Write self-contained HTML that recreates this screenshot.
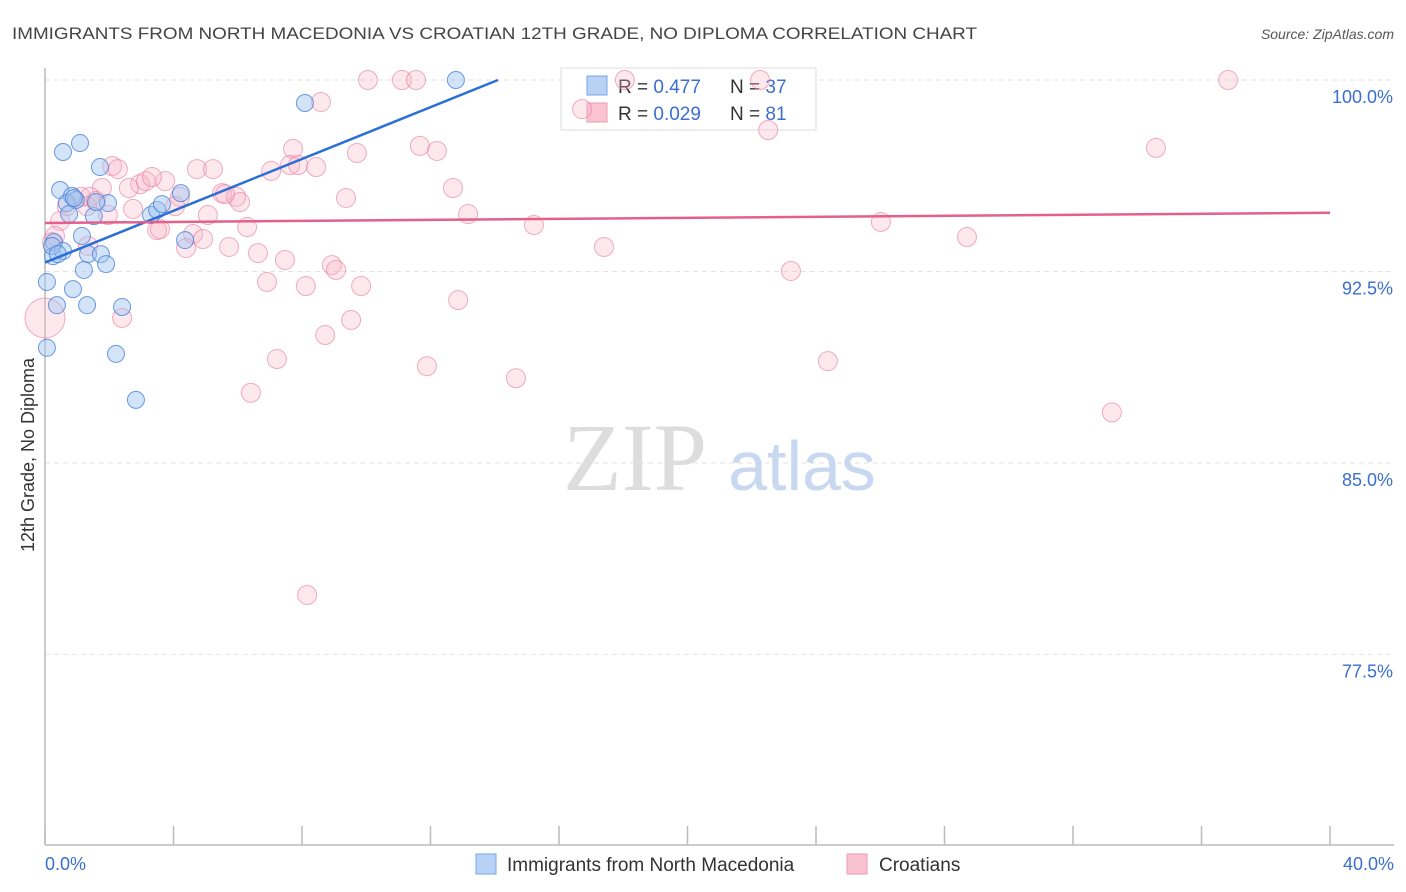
<!DOCTYPE html>
<html><head><meta charset="utf-8"><style>
html,body{margin:0;padding:0;background:#fff;}
svg{display:block;font-family:"Liberation Sans",sans-serif;}
</style></head><body>
<svg id="chart" width="1406" height="892" viewBox="0 0 1406 892">
<text x="12" y="39" font-size="17" fill="#444" textLength="965" lengthAdjust="spacingAndGlyphs">IMMIGRANTS FROM NORTH MACEDONIA VS CROATIAN 12TH GRADE, NO DIPLOMA CORRELATION CHART</text>
<text x="1394" y="39" font-size="14" font-style="italic" fill="#555" text-anchor="end">Source: ZipAtlas.com</text>
<g id="grid"></g>
<g>
<text x="635" y="490" font-family="Liberation Serif,serif" font-size="96" fill="#ddd" text-anchor="middle">ZIP</text>
<text x="802" y="490" font-size="70" fill="#c8d8f0" text-anchor="middle">atlas</text>
</g>
<line x1="45" y1="68" x2="45" y2="845" stroke="#bbb" stroke-width="1.5"/>
<line x1="45" y1="845" x2="1394" y2="845" stroke="#bbb" stroke-width="1.5"/>
<g id="xticks"></g>
<g id="yticks"></g>
<text x="34" y="455" font-size="18" fill="#333" text-anchor="middle" transform="rotate(-90 34 455)">12th Grade, No Diploma</text>
<g>
<rect x="561" y="68" width="255" height="62" fill="#fff" stroke="#ddd"/>
<rect x="587" y="76" width="20" height="19" fill="#b8d2f5" stroke="#7aa6e6"/>
<rect x="587" y="103" width="20" height="19" fill="#f9c3d3" stroke="#ee9ab4"/>
<text x="618" y="93" font-size="19" fill="#333">R = <tspan fill="#3a6fd0">0.477</tspan><tspan x="730">N = </tspan><tspan fill="#3a6fd0">37</tspan></text>
<text x="618" y="120" font-size="19" fill="#333">R = <tspan fill="#3a6fd0">0.029</tspan><tspan x="730">N = </tspan><tspan fill="#3a6fd0"> 81</tspan></text>
</g>
<g id="pts"></g>
<g id="trends"></g>
<text x="45" y="870" font-size="18" fill="#3a6fd0">0.0%</text>
<text x="1394" y="870" font-size="18" fill="#3a6fd0" text-anchor="end">40.0%</text>
<g>
<rect x="476" y="854" width="20" height="20" fill="#b8d2f5" stroke="#7aa6e6"/>
<text x="507" y="871" font-size="19" fill="#333">Immigrants from North Macedonia</text>
<rect x="847" y="854" width="20" height="20" fill="#f9c3d3" stroke="#ee9ab4"/>
<text x="879" y="871" font-size="19" fill="#333">Croatians</text>
</g>
</svg>
<script>
const yTicks=[100,92.5,85,77.5];
const yTickLabels=["100.0%","92.5%","85.0%","77.5%"];
const xTicks=[0,4,8,12,16,20,24,28,32,36,40];
const blueX=[0.56,1.09,1.71,0.47,0.84,0.68,0.96,1.96,0.75,1.52,0.28,1.15,0.25,0.56,1.34,1.74,1.90,1.21,0.06,0.87,1.31,0.37,2.40,0.06,2.21,2.83,3.30,3.49,3.64,4.23,4.36,8.09,12.79,0.22,0.40,1.59,0.90];
const blueY=[97.18,97.53,96.59,95.69,95.46,95.18,95.30,95.18,94.75,94.67,93.65,93.89,93.10,93.30,93.18,93.18,92.79,92.56,92.09,91.81,91.18,91.18,91.11,89.51,89.27,87.47,94.71,94.91,95.14,95.57,93.73,99.10,100.0,93.50,93.18,95.22,95.38];
const pinkX=[10.05,11.11,11.55,18.05,22.26,36.83,8.59,16.72,22.51,34.58,11.67,12.20,9.71,7.72,2.09,2.27,4.73,5.23,7.04,7.63,7.88,8.44,3.74,2.96,3.14,3.33,2.61,1.77,12.70,9.37,5.51,5.95,6.07,5.60,4.20,4.05,1.12,1.31,0.68,0.47,1.96,2.74,5.07,13.17,15.22,3.49,3.58,4.61,4.92,6.29,4.39,5.73,6.63,17.40,26.02,28.70,0.31,1.34,7.47,6.91,8.12,8.93,9.06,9.84,23.22,12.86,2.40,9.53,8.72,7.22,11.89,24.37,14.66,6.41,33.21,8.16,0.0,0.22,1.40,1.59];
const pinkY=[100.0,100.0,100.0,100.0,100.0,100.0,99.14,98.86,98.04,97.34,97.42,97.22,97.14,97.30,96.63,96.51,96.51,96.51,96.44,96.67,96.67,96.59,96.04,95.92,96.04,96.20,95.77,95.77,95.77,95.38,95.57,95.42,95.22,95.53,95.42,95.06,95.42,95.06,95.06,94.48,94.71,94.95,94.71,94.75,94.32,94.12,94.16,93.97,93.77,94.24,93.42,93.46,93.22,93.46,94.44,93.85,93.89,93.50,92.95,92.09,91.93,92.75,92.56,91.93,92.52,91.38,90.68,90.60,90.01,89.07,88.79,88.99,88.32,87.75,86.98,79.83,90.68,93.65,95.42,95.26];
const pinkR=[9.5,9.5,9.5,9.5,9.5,9.5,9.5,9.5,9.5,9.5,9.5,9.5,9.5,9.5,9.5,9.5,9.5,9.5,9.5,9.5,9.5,9.5,9.5,9.5,9.5,9.5,9.5,9.5,9.5,9.5,9.5,9.5,9.5,9.5,9.5,9.5,9.5,9.5,9.5,9.5,9.5,9.5,9.5,9.5,9.5,9.5,9.5,9.5,9.5,9.5,9.5,9.5,9.5,9.5,9.5,9.5,9.5,9.5,9.5,9.5,9.5,9.5,9.5,9.5,9.5,9.5,9.5,9.5,9.5,9.5,9.5,9.5,9.5,9.5,9.5,9.5,20,9.5,9.5,9.5];
const blueTrend=[[0,92.85],[14.1,100.0]];
const pinkTrend=[[0,94.4],[40,94.8]];
const X=v=>45+v*32.125, Y=v=>80+(100-v)*25.53;
const NS="http://www.w3.org/2000/svg";
function mk(t,a,p){const e=document.createElementNS(NS,t);for(const k in a)e.setAttribute(k,a[k]);p.appendChild(e);return e;}
const grid=document.getElementById('grid'),yt=document.getElementById('yticks'),xt=document.getElementById('xticks');
yTicks.forEach((v,i)=>{
 const l=mk('line',{x1:45,x2:1394,y1:Y(v),y2:Y(v),stroke:'#e2e2e2','stroke-dasharray':'5,4'},grid);
 
 
 const t=mk('text',{x:1393,y:Y(v)+23,'font-size':18,fill:'#3a6fd0','text-anchor':'end'},yt);
 t.textContent=yTickLabels[i];
 
 
});
xTicks.forEach(v=>{
 const l=mk('line',{x1:X(v),x2:X(v),y1:826,y2:845,stroke:'#bbb','stroke-width':1.5},xt);
 
 
});
const pts=document.getElementById('pts');
pinkX.forEach((x,i)=>{
 const c=mk('circle',{cx:X(x),cy:Y(pinkY[i]),r:pinkR[i],fill:'rgba(248,180,200,0.3)',stroke:'rgba(232,120,155,0.6)','stroke-width':1},pts);
 
 
});
blueX.forEach((x,i)=>{
 const c=mk('circle',{cx:X(x),cy:Y(blueY[i]),r:8.5,fill:'rgba(160,196,240,0.45)',stroke:'rgba(70,130,215,0.8)','stroke-width':1},pts);
 
 
});
const tr=document.getElementById('trends');
const b=mk('line',{x1:X(blueTrend[0][0]),y1:Y(blueTrend[0][1]),x2:X(blueTrend[1][0]),y2:Y(blueTrend[1][1]),stroke:'#2a6fd6','stroke-width':2.5},tr);


const p=mk('line',{x1:X(pinkTrend[0][0]),y1:Y(pinkTrend[0][1]),x2:X(pinkTrend[1][0]),y2:Y(pinkTrend[1][1]),stroke:'#e4608a','stroke-width':2.5},tr);


</script>
</body></html>
